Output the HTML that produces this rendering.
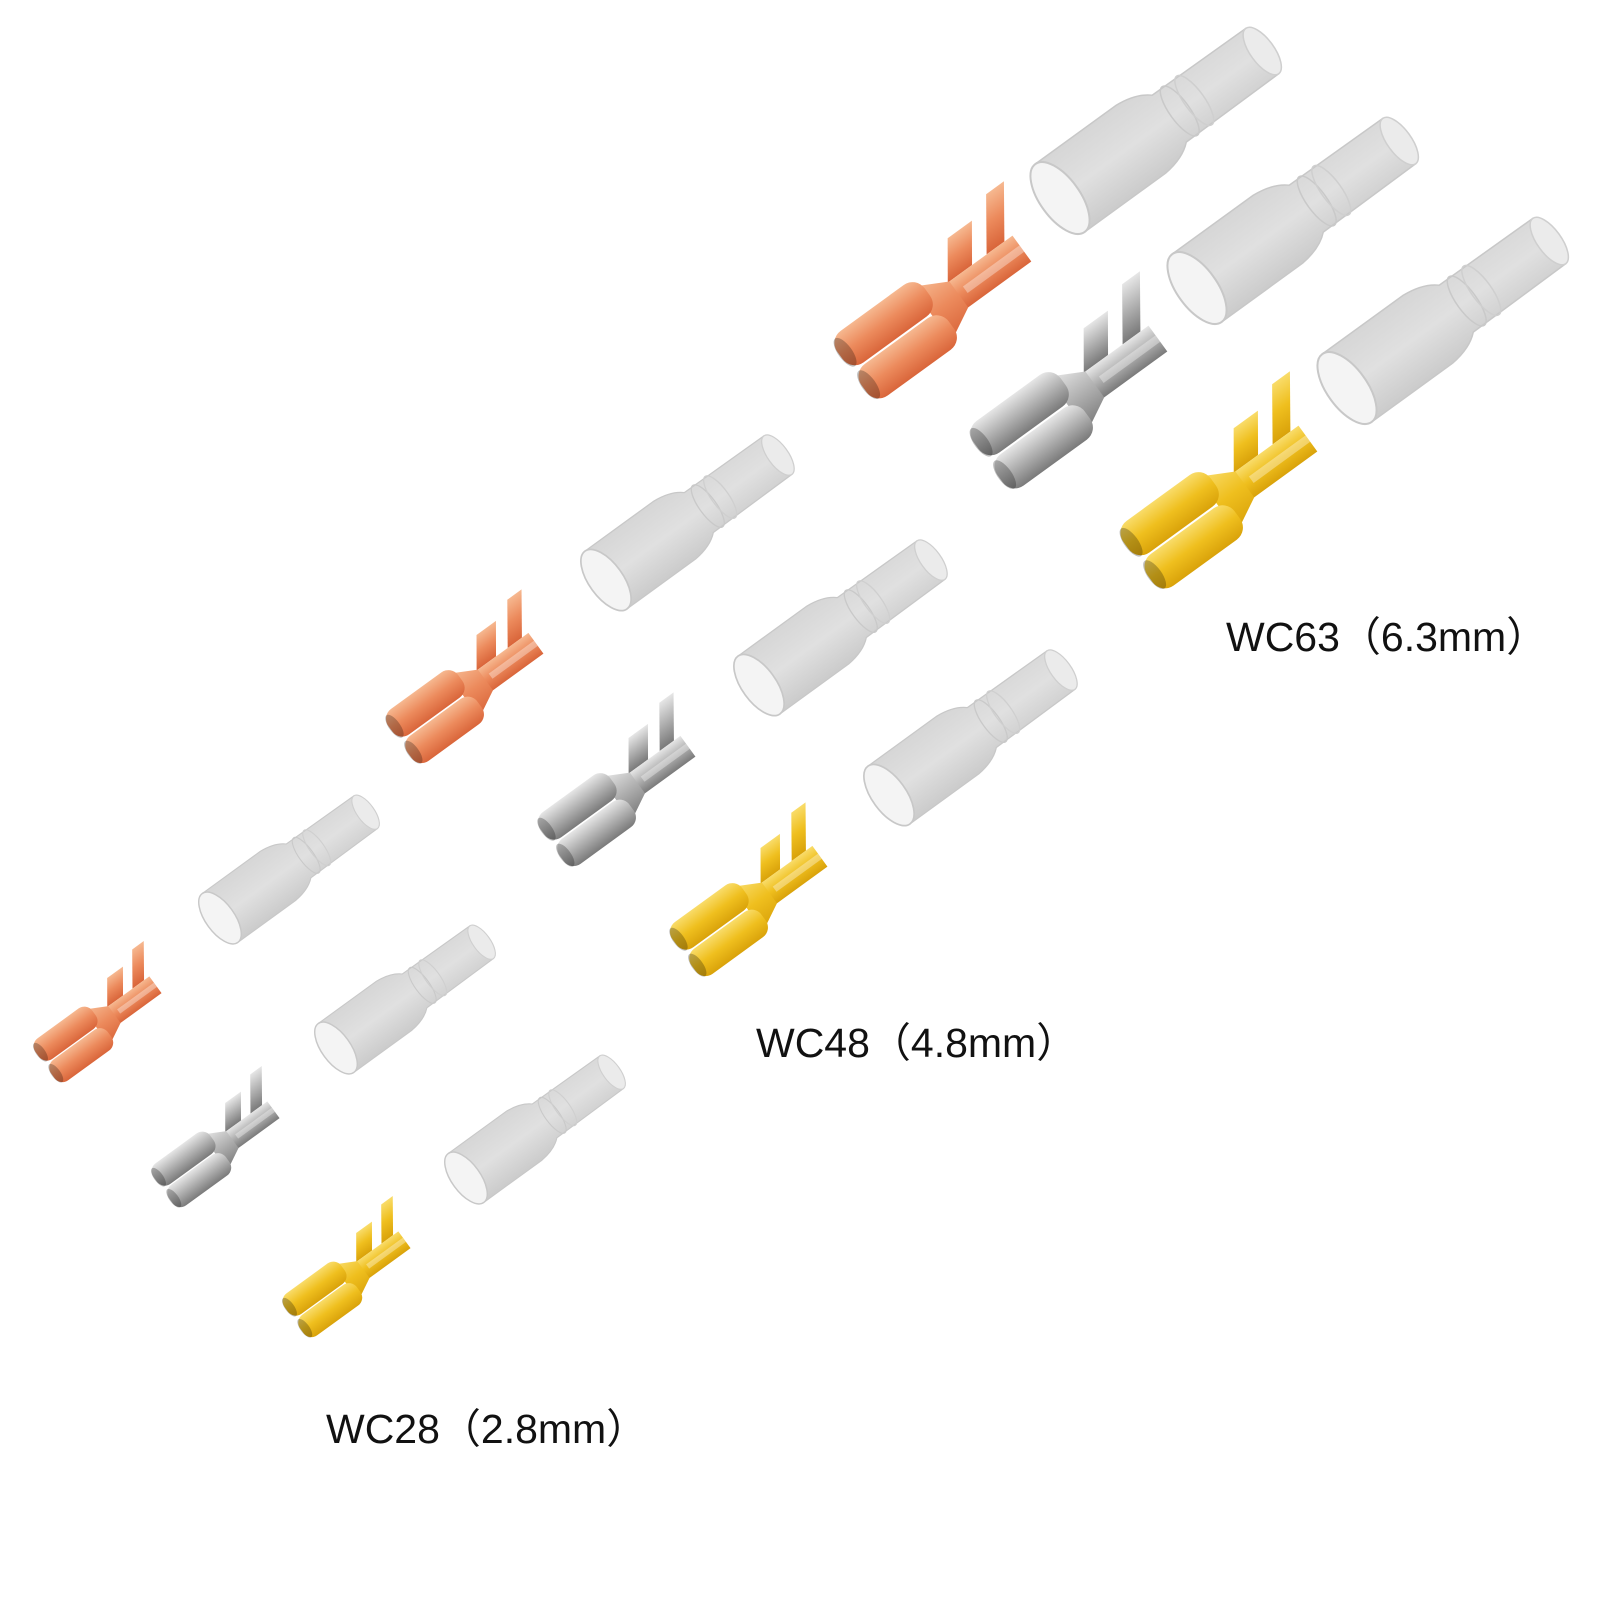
<!DOCTYPE html>
<html><head><meta charset="utf-8"><style>
html,body{margin:0;padding:0;background:#fff;width:1600px;height:1600px;overflow:hidden}
svg{display:block}
.lbl{font-family:"Liberation Sans","Noto Sans CJK SC",sans-serif;font-size:41px;fill:#111}
</style></head><body>
<svg width="1600" height="1600" viewBox="0 0 1600 1600" xmlns="http://www.w3.org/2000/svg">
<defs>
<linearGradient id="sg" x1="0" y1="0" x2="0" y2="1"><stop offset="0" stop-color="#d6d6d6"/><stop offset=".5" stop-color="#e0e0e0"/><stop offset="1" stop-color="#cbcbcb"/></linearGradient>
<linearGradient id="cu" x1="0" y1="0" x2="0" y2="1"><stop offset="0" stop-color="#f6b890"/><stop offset=".5" stop-color="#ec8a5c"/><stop offset="1" stop-color="#d9653a"/></linearGradient>
<linearGradient id="ag" x1="0" y1="0" x2="0" y2="1"><stop offset="0" stop-color="#e6e6e6"/><stop offset=".5" stop-color="#b0b0b0"/><stop offset="1" stop-color="#7a7a7a"/></linearGradient>
<linearGradient id="au" x1="0" y1="0" x2="0" y2="1"><stop offset="0" stop-color="#f9dc6a"/><stop offset=".5" stop-color="#efbf1e"/><stop offset="1" stop-color="#d9a20a"/></linearGradient>
<g id="sleeve">
<path d="M0,-42 L100,-42 Q123,-40 135,-29 L250,-28 L250,28 L135,29 Q123,40 100,42 L0,42 Z" fill="url(#sg)" stroke="#c8c8c8" stroke-width="1.5"/>
<ellipse cx="148" cy="0" rx="10" ry="30" fill="none" stroke="#c9c9c9" stroke-width="1.5"/>
<ellipse cx="166" cy="0" rx="10" ry="30" fill="none" stroke="#cfcfcf" stroke-width="1.5"/>
<ellipse cx="250" cy="0" rx="12" ry="28" fill="#ebebeb" stroke="#cfcfcf" stroke-width="1.5"/>
<ellipse cx="0" cy="0" rx="20" ry="42" fill="#f4f4f4" stroke="#c8c8c8" stroke-width="2"/>
</g>
<g id="term">
<polygon points="130,-16 160,-16 186,-52 156,-52"/>
<polygon points="178,-16 200,-16 235,-65 213,-65"/>
<rect x="125" y="-16" width="85" height="32"/>
<polygon points="98,-34 132,-16 132,16 98,34"/>
<rect x="0" y="-40" width="108" height="39" rx="15"/>
<rect x="0" y="1" width="108" height="39" rx="15"/>
<rect x="140" y="-4" width="70" height="8" fill="#fff" opacity=".35"/>
<ellipse cx="6" cy="-20" rx="7" ry="17" fill="#000" opacity=".25"/>
<ellipse cx="6" cy="20" rx="7" ry="17" fill="#000" opacity=".25"/>
</g>
</defs>
<!-- 6.3 -->
<use href="#sleeve" transform="translate(1060,198) rotate(-36)"/>
<use href="#sleeve" transform="translate(1197,288) rotate(-36)"/>
<use href="#sleeve" transform="translate(1347,388) rotate(-36)"/>
<use href="#term" fill="url(#cu)" transform="translate(852,372) rotate(-36)"/>
<use href="#term" fill="url(#ag)" transform="translate(988,462) rotate(-36)"/>
<use href="#term" fill="url(#au)" transform="translate(1138,562) rotate(-36)"/>

<!-- 4.8 -->
<use href="#sleeve" transform="translate(606,580) rotate(-36) scale(.85)"/>
<use href="#sleeve" transform="translate(759,685) rotate(-36) scale(.85)"/>
<use href="#sleeve" transform="translate(889,795) rotate(-36) scale(.85)"/>
<use href="#term" fill="url(#cu)" transform="translate(400,742) rotate(-36) scale(.8)"/>
<use href="#term" fill="url(#ag)" transform="translate(552,845) rotate(-36) scale(.8)"/>
<use href="#term" fill="url(#au)" transform="translate(684,955) rotate(-36) scale(.8)"/>

<!-- 2.8 -->
<use href="#sleeve" transform="translate(220,918) rotate(-36) scale(.72)"/>
<use href="#sleeve" transform="translate(336,1048) rotate(-36) scale(.72)"/>
<use href="#sleeve" transform="translate(466,1178) rotate(-36) scale(.72)"/>
<use href="#term" fill="url(#cu)" transform="translate(45,1065) rotate(-36) scale(.65)"/>
<use href="#term" fill="url(#ag)" transform="translate(163,1190) rotate(-36) scale(.65)"/>
<use href="#term" fill="url(#au)" transform="translate(294,1320) rotate(-36) scale(.65)"/>

<text class="lbl" x="1226" y="651">WC63（6.3mm）</text>
<text class="lbl" x="756" y="1057">WC48（4.8mm）</text>
<text class="lbl" x="326" y="1443">WC28（2.8mm）</text>
</svg>
</body></html>
